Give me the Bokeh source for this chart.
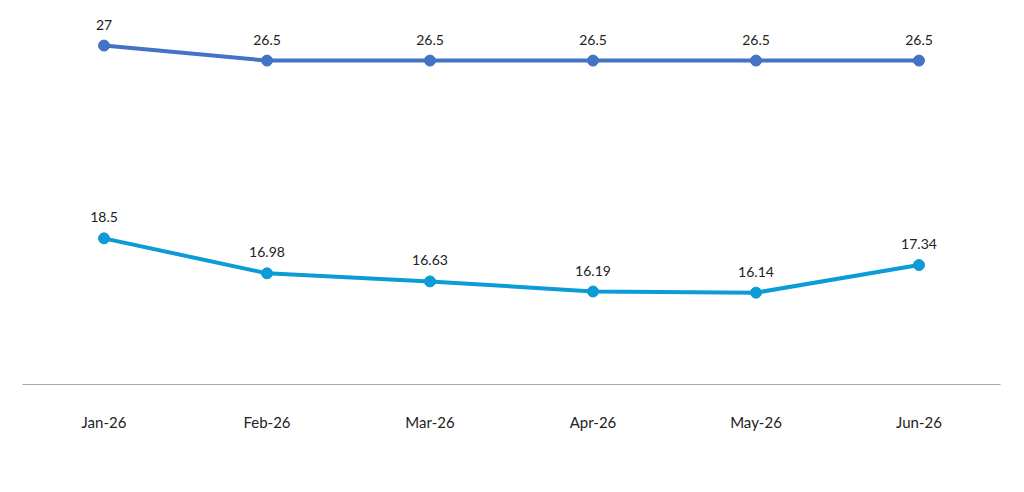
from bokeh.plotting import figure
from bokeh.models import ColumnDataSource, LabelSet, Range1d, Legend, LegendItem
from bokeh.core.properties import value
from bokeh.embed import file_html
from bokeh.resources import INLINE

months = ["Jan-26", "Feb-26", "Mar-26", "Apr-26", "May-26", "Jun-26"]
tbills = [18.5, 16.98, 16.63, 16.19, 16.14, 17.34]
mpr = [27, 26.5, 26.5, 26.5, 26.5, 26.5]

FONT = "Lato"
src = ColumnDataSource(dict(m=months, t=tbills, r=mpr,
                            tl=[str(v) for v in tbills], rl=[str(v) for v in mpr]))

p = figure(x_range=months, y_range=Range1d(12.15, 28.4), frame_width=978, frame_height=374,
           width=1020, height=488, output_backend="svg", toolbar_location=None,
           min_border_left=22, min_border_right=20, min_border_top=10, min_border_bottom=0)
p.extra_y_ranges = {"mpr": Range1d(15.7, 28.17)}
p.outline_line_color = None
p.xgrid.visible = False
p.ygrid.visible = False
p.yaxis.visible = False
p.xaxis.axis_line_color = "#aaaaaa"
p.xaxis.major_tick_line_color = None
p.xaxis.minor_tick_line_color = None
p.xaxis.major_label_text_font = FONT
p.xaxis.major_label_text_font_size = "15px"
p.xaxis.major_label_text_color = "#222222"
p.xaxis.major_label_standoff = 22

c1, c2 = "#0b9bd6", "#4472c4"
l1 = p.line("m", "t", source=src, line_color=c1, line_width=4)
s1 = p.scatter("m", "t", source=src, color=c1, size=11)
l2 = p.line("m", "r", source=src, line_color=c2, line_width=4, y_range_name="mpr")
s2 = p.scatter("m", "r", source=src, color=c2, size=11, y_range_name="mpr")

for col, lab, rn in [("t", "tl", "default"), ("r", "rl", "mpr")]:
    p.add_layout(LabelSet(x="m", y=col, text=lab, source=src, y_range_name=rn,
                          text_align="center", y_offset=16, text_font=value(FONT),
                          text_font_size="14px", text_color="#222222"))

legend = Legend(items=[LegendItem(label="365-day T/bills (%)", renderers=[l1, s1]),
                       LegendItem(label="MPR (%)", renderers=[l2, s2])],
                orientation="horizontal", location="center", border_line_color=None,
                label_text_font=FONT, label_text_font_size="13px", glyph_width=45,
                spacing=40, margin=6, padding=4)
p.add_layout(legend, "below")

open("out.html", "w").write(file_html(p, INLINE))
